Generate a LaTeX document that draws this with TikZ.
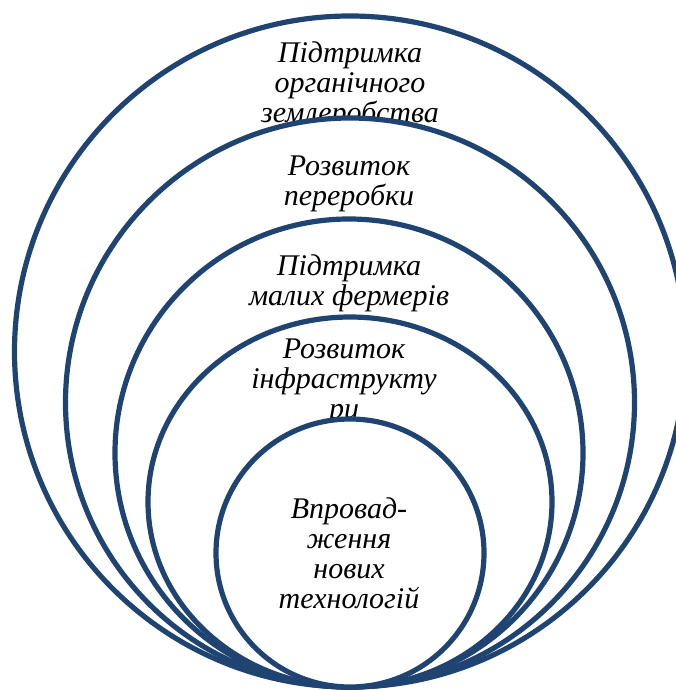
\documentclass[tikz,border=0pt]{standalone}
\usepackage{fontspec}
\setmainfont{Liberation Serif}
\usetikzlibrary{shapes.geometric}
\definecolor{ringblue}{RGB}{31,68,114}
\begin{document}
\begin{tikzpicture}[x=1pt,y=-1pt,
  ring/.style={circle, draw=ringblue, line width=5.2pt, fill=white, inner sep=0pt},
  oval/.style={ellipse, draw=ringblue, line width=5.2pt, fill=white, inner sep=0pt},
  lbl/.style={anchor=north, inner sep=0pt, align=center, font=\fontsize{30}{30}\selectfont\itshape}]
\useasboundingbox (0,0) rectangle (676,690);
\node[ring, minimum size=671pt] (c1) at (350,351.5) {};
\node[lbl] (t1) at (350,38) {\rule{0pt}{24pt}Підтримка\\органічного\\землеробства};
\node[ring, minimum size=569pt] (c2) at (350,402.5) {};
\node[lbl] (t2) at (349,151) {\rule{0pt}{24pt}Розвиток\\переробки};
\node[ring, minimum size=468pt] (c3) at (349,453) {};
\node[lbl] (t3) at (349,251) {\rule{0pt}{24pt}Підтримка\\малих фермерів};
\node[oval, minimum width=404pt, minimum height=370pt] (c4) at (350,502) {};
\node[lbl] (t4) at (344,334) {\rule{0pt}{24pt}Розвиток\\інфраструкту\\ри};
\node[ring, minimum size=268pt] (c5) at (350,553) {};
\node[lbl] (t5) at (349,494) {\rule{0pt}{24pt}Впровад-\\ження\\нових\\технологій};
\end{tikzpicture}
\end{document}
